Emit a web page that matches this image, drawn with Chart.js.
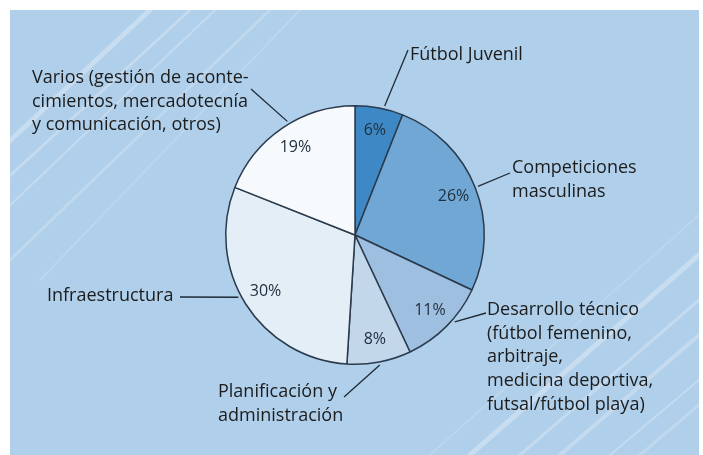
<!DOCTYPE html>
<html lang="es">
<head>
<meta charset="UTF-8">
<title>Distribución del presupuesto</title>
<style>
    body { margin: 0; background: #ffffff; }
    .chart-container { position: relative; width: 703px; height: 455px; }
</style>
</head>
<body>
<div class="chart-container">
    <canvas id="myChart"></canvas>
</div>

<script src="https://cdn.jsdelivr.net/npm/chart.js@4.4.1/dist/chart.umd.min.js"></script>
<script>
    // Data
    const categories = [
        'Fútbol Juvenil',
        'Competiciones masculinas',
        'Desarrollo técnico',
        'Planificación y administración',
        'Infraestructura',
        'Varios'
    ];
    const shares = [6, 26, 11, 8, 30, 19];
    const labelLines = [
        ['Fútbol Juvenil'],
        ['Competiciones', 'masculinas'],
        ['Desarrollo técnico', '(fútbol femenino,', 'arbitraje,', 'medicina deportiva,', 'futsal/fútbol playa)'],
        ['Planificación y', 'administración'],
        ['Infraestructura'],
        ['Varios (gestión de aconte-', 'cimientos, mercadotecnía', 'y comunicación, otros)']
    ];

    const sliceColors = ['#3d88c5', '#70a7d4', '#9ebfdf', '#c3d7eb', '#e4eef7', '#f7fafd'];

    // where each outside label sits, where its leader ends, and where along the slice it starts
    const labelPlace = [
        { x: 410, y: 55,  end: [408, 50],  at: 0.6 },
        { x: 512, y: 168, end: [510, 173], at: 0.5 },
        { x: 487, y: 310, end: [486, 313], at: 0.4 },
        { x: 218, y: 392, end: [344, 397], at: 0.5 },
        { x: 47,  y: 296, end: [180, 297], at: 0.54 },
        { x: 32,  y: 78,  end: [251, 89],  at: 0.55 }
    ];
    const lineGap = 23.6;

    // panel background with the faint diagonal stripes
    const backdrop = {
        id: 'backdrop',
        beforeDraw(chart) {
            const ctx = chart.ctx;
            ctx.save();
            ctx.fillStyle = '#ffffff';
            ctx.fillRect(0, 0, chart.width, chart.height);
            ctx.fillStyle = '#b0cfea';
            ctx.fillRect(10, 10, 689, 445);
            ctx.beginPath();
            ctx.rect(10, 10, 689, 445);
            ctx.clip();
            ctx.lineCap = 'round';
            const stripes = [
                [0, 150, 150, 10, 5, 0.3], [0, 185, 190, 10, 3, 0.25], [0, 215, 215, 10, 2, 0.25],
                [10, 260, 270, 10, 3, 0.2], [40, 280, 300, 10, 2, 0.15],
                [470, 455, 699, 255, 5, 0.3], [520, 455, 699, 300, 3, 0.25], [560, 455, 699, 335, 4, 0.25],
                [610, 455, 699, 380, 2, 0.25], [430, 455, 699, 215, 2, 0.15], [640, 455, 699, 405, 3, 0.2]
            ];
            ctx.strokeStyle = '#ffffff';
            stripes.forEach(s => {
                ctx.globalAlpha = s[5];
                ctx.lineWidth = s[4];
                ctx.beginPath();
                ctx.moveTo(s[0], s[1]);
                ctx.lineTo(s[2], s[3]);
                ctx.stroke();
            });
            ctx.restore();
        }
    };

    // percentages inside slices + outside labels with leader lines
    const sliceText = {
        id: 'sliceText',
        afterDatasetsDraw(chart) {
            const ctx = chart.ctx;
            const arcs = chart.getDatasetMeta(0).data;
            ctx.save();
            arcs.forEach((arc, i) => {
                const p = arc.getProps(['x', 'y', 'startAngle', 'endAngle', 'outerRadius'], true);
                const mid = (p.startAngle + p.endAngle) / 2;
                // percent
                const r = p.outerRadius * 0.82;
                ctx.fillStyle = '#22313f';
                ctx.font = '16px "Open Sans", "Liberation Sans", sans-serif';
                ctx.textAlign = 'center';
                ctx.textBaseline = 'middle';
                ctx.fillText(shares[i] + '%', p.x + Math.cos(mid) * r, p.y + Math.sin(mid) * r);
                // leader
                const lp = labelPlace[i];
                const a = p.startAngle + (p.endAngle - p.startAngle) * lp.at;
                const r2 = p.outerRadius + 3;
                ctx.strokeStyle = '#1e2a36';
                ctx.lineWidth = 1.3;
                ctx.beginPath();
                ctx.moveTo(p.x + Math.cos(a) * r2, p.y + Math.sin(a) * r2);
                ctx.lineTo(lp.end[0], lp.end[1]);
                ctx.stroke();
                // label
                ctx.fillStyle = '#1c1c1c';
                ctx.font = '18px "Open Sans", "Liberation Sans", sans-serif';
                ctx.textAlign = 'left';
                labelLines[i].forEach((t, k) => ctx.fillText(t, lp.x, lp.y + k * lineGap));
            });
            ctx.restore();
        }
    };

    const ctx = document.getElementById('myChart').getContext('2d');
    const myChart = new Chart(ctx, {
        type: 'pie',
        data: {
            labels: categories,
            datasets: [{
                data: shares,
                backgroundColor: sliceColors,
                borderColor: '#2b3b4d',
                borderWidth: 1.5
            }]
        },
        options: {
            responsive: true,
            maintainAspectRatio: false,
            animation: false,
            events: [],
            layout: {
                padding: { left: 225, right: 218, top: 105, bottom: 90 }
            },
            plugins: {
                legend: { display: false },
                tooltip: { enabled: false }
            }
        },
        plugins: [backdrop, sliceText]
    });
</script>
</body>
</html>
